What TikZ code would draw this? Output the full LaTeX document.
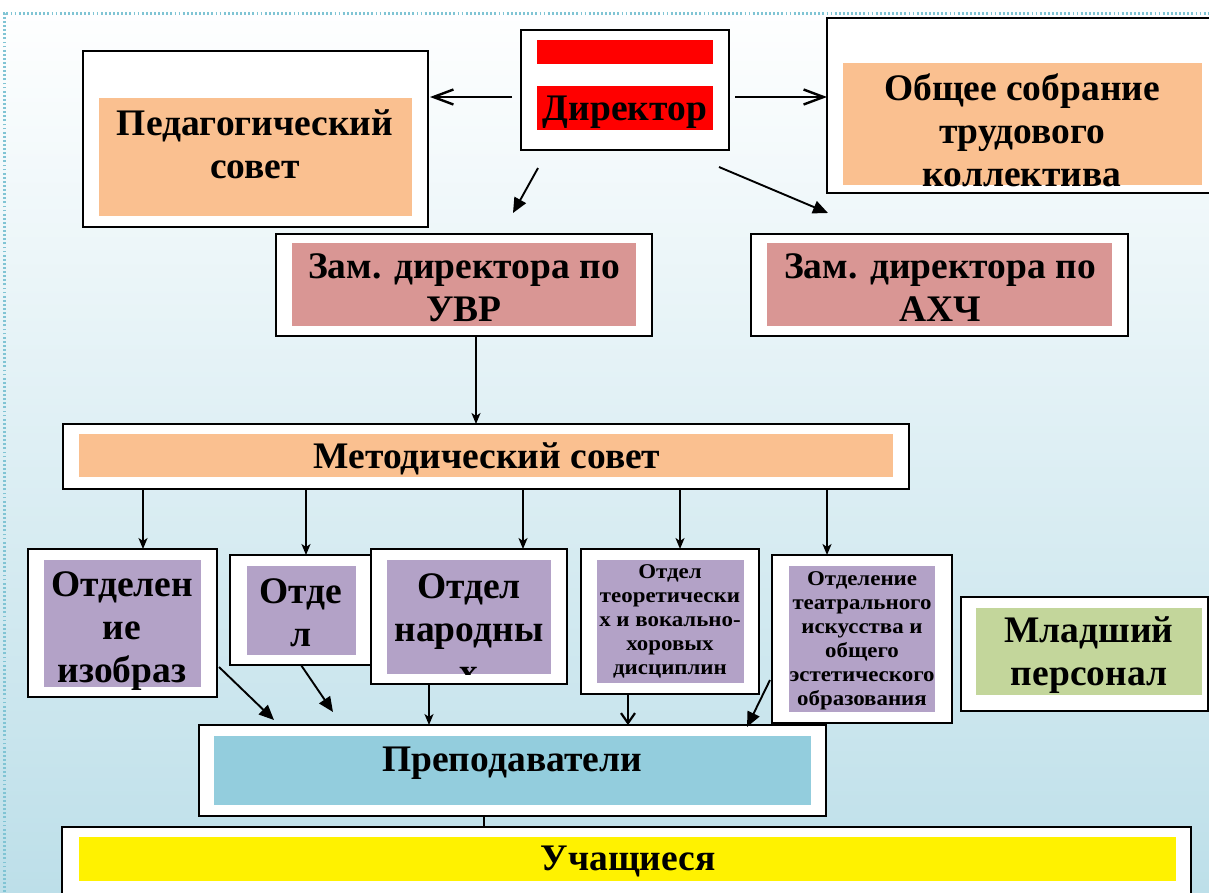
\documentclass[tikz,border=0pt]{standalone}
\usepackage{fontspec}
\setmainfont{Liberation Serif}
\newfontfamily\widefont[FakeStretch=1.09]{Liberation Serif}
\usetikzlibrary{arrows.meta,calc}
\definecolor{bgblue}{RGB}{189,223,233}
\definecolor{dotcol}{RGB}{128,196,212}
\definecolor{peach}{RGB}{250,192,144}
\definecolor{rose}{RGB}{217,150,148}
\definecolor{lilac}{RGB}{179,162,199}
\definecolor{olive}{RGB}{195,214,155}
\definecolor{teal}{RGB}{147,205,221}
\tikzset{
 obox/.style={draw=black, line width=2.2pt, fill=white, anchor=north west, inner sep=0pt, outer sep=0pt},
 ibox/.style={anchor=north west, inner sep=0pt, outer sep=0pt},
 big/.style={font=\fontsize{37.5}{43}\selectfont\bfseries, align=center, inner sep=0pt},
 small/.style={font=\widefont\fontsize{21}{24}\selectfont\bfseries, align=center, inner sep=0pt},
 arr/.style={line width=1.9pt, -{Triangle[length=15pt,width=13pt]}},
 arrs/.style={line width=1.9pt, -{Stealth[length=11pt,width=9pt,inset=3pt]}},
 arrb/.style={line width=1.9pt, -{Straight Barb[length=20pt,width=15pt,line width=2.4pt]}},
 varr/.style={line width=1.9pt, -{Straight Barb[length=10pt,width=14pt,line width=2.2pt]}},
}
\newcommand\obx[5]{\node[obox,minimum width={#4-#2},minimum height={#5-#3}] (#1) at (#2,#3) {};}
\newcommand\ibx[6]{\node[ibox,fill=#6,minimum width={#4-#2},minimum height={#5-#3}] (#1) at (#2,#3) {};}
\begin{document}
\begin{tikzpicture}[x=1pt,y=-1pt]
\useasboundingbox (0,0) rectangle (1209,892);
\shade[top color=white, bottom color=bgblue] (0,0) rectangle (1209,892);
\draw[dotcol, line width=3pt, dash pattern=on 1.8pt off 2.3pt] (4,892) -- (4,13) -- (1209,13);

% Director
\obx{dir}{521}{30}{729}{150}
\ibx{bar1}{537}{40}{713}{64}{red}
\ibx{bar2}{537}{86}{713}{130}{red}
\node[big] (tdir) at (625,112) {Директор};
% Pedagogical council
\obx{ped}{83}{51}{428}{227}
\ibx{pedi}{99}{98}{412}{216}{peach}
\node[big] (tped) at (255,144) {Педагогический\\совет};
% General meeting
\obx{obs}{827}{18}{1215}{193}
\ibx{obsi}{843}{63}{1202}{185}{peach}
\node[big] (tobs) at (1022,130) {Общее собрание\\трудового\\коллектива};
% Deputies
\obx{uvr}{276}{234}{652}{336}
\ibx{uvri}{292}{243}{636}{326}{rose}
\node[big] (tuvr) at (464,288) {Зам. директора по\\УВР};
\obx{ahch}{751}{234}{1128}{336}
\ibx{ahchi}{767}{243}{1112}{326}{rose}
\node[big] (tahch) at (940,288) {Зам. директора по\\АХЧ};
% Methodical council
\obx{met}{63}{424}{909}{489}
\ibx{meti}{79}{434}{893}{477}{peach}
\node[big] (tmet) at (487,459) {Методический совет};
% Departments
\obx{b1}{28}{549}{217}{697}
\ibx{b1i}{44}{560}{201}{687}{lilac}
\node[big] (t1) at (122,631) {Отделен\\ие\\изобраз};
\obx{b2}{230}{555}{371}{665}
\ibx{b2i}{247}{566}{356}{655}{lilac}
\node[big] (t2) at (301,613) {Отде\\л};
\obx{b3}{371}{549}{567}{684}
\ibx{b3i}{387}{560}{551}{674}{lilac}
\begin{scope}
\clip (b3i.north west) rectangle (b3i.south east);
\node[big] (t3) at (469,629) {Отдел\\народны\\х};
\end{scope}
\obx{b4}{581}{549}{759}{694}
\ibx{b4i}{597}{560}{744}{683}{lilac}
\node[small] (t4) at (670,621) {Отдел\\теоретически\\х и вокально-\\хоровых\\дисциплин};
\obx{b5}{772}{555}{952}{723}
\ibx{b5i}{789}{566}{935}{712}{lilac}
\node[small] (t5) at (862,641) {Отделение\\театрального\\искусства и\\общего\\эстетического\\образования};
\obx{jun}{961}{597}{1208}{711}
\ibx{juni}{976}{608}{1202}{695}{olive}
\node[big] (tjun) at (1089,655) {Младший\\персонал};
% Teachers and students
\obx{prep}{199}{725}{826}{816}
\ibx{prepi}{214}{736}{811}{805}{teal}
\node[big] (tprep) at (512,763) {Преподаватели};
\obx{uch}{62}{827}{1191}{900}
\ibx{uchi}{79}{837}{1176}{881}{yellow}
\node[big] (tuch) at (628,861) {Учащиеся};

% Arrows
\draw[arrb] ($(dir.west)+(-9,7)$) -- ($(dir.west -| ped.east)+(2,7)$);
\draw[arrb] ($(dir.east)+(6,7)$) -- ($(dir.east -| obs.west)+(0,7)$);
\draw[arr] ($(dir.south)+(-87,18)$) -- ($(uvr.north)+(49,-21)$);
\draw[arr] ($(dir.south)+(94,17)$) -- ($(ahch.north)+(-111.5,-21)$);
\draw[arrs] ([xshift=12pt]uvr.south) -- ([xshift=12pt]uvr.south |- met.north);
\draw[arrs] ([xshift=20.5pt]b1.north |- met.south) -- ([xshift=20.5pt]b1.north);
\draw[arrs] ([xshift=5.5pt]b2.north |- met.south) -- ([xshift=5.5pt]b2.north);
\draw[arrs] ([xshift=54pt]b3.north |- met.south) -- ([xshift=54pt]b3.north);
\draw[arrs] ([xshift=10pt]b4.north |- met.south) -- ([xshift=10pt]b4.north);
\draw[arrs] ([xshift=-35pt]b5.north |- met.south) -- ([xshift=-35pt]b5.north);
\draw[arr] ($(b1.south east)+(2,-30)$) -- ($(prep.north west)+(75,-5)$);
\draw[arr] ($(b2.south)+(0.5,0)$) -- ($(prep.north west)+(134,-13)$);
\draw[arrs] ([xshift=-40pt]b3.south) -- ([xshift=-40pt]b3.south |- prep.north);
\draw[varr] ([xshift=-42pt]b4.south) -- ([xshift=-42pt]b4.south |- prep.north);
\draw[arr] ($(b5.south west)+(-2,-43)$) -- ($(prep.north east)+(-79,2)$);
\draw[line width=1.5pt] ([xshift=-28.5pt]prep.south) -- ([xshift=-28.5pt]prep.south |- uch.north);
\end{tikzpicture}
\end{document}
